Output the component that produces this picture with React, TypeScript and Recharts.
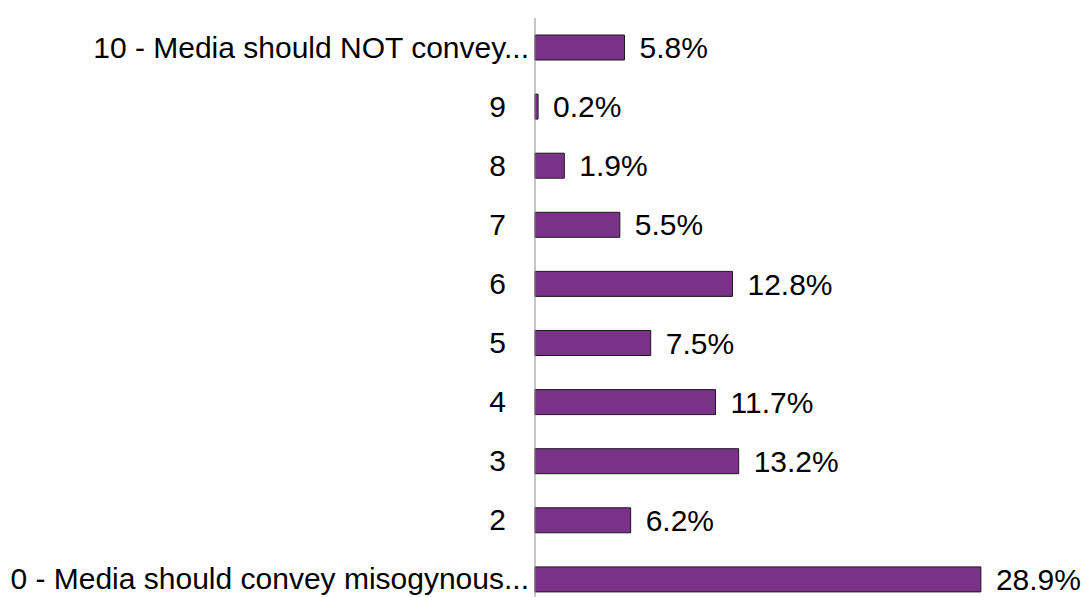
import React from 'react';
import { BarChart, Bar, XAxis, YAxis, LabelList } from 'recharts';

const categories = [
    '10 - Media should NOT convey...',
    '9',
    '8',
    '7',
    '6',
    '5',
    '4',
    '3',
    '2',
    '0 - Media should convey misogynous...',
];

const shares = [5.8, 0.2, 1.9, 5.5, 12.8, 7.5, 11.7, 13.2, 6.2, 28.9];

const data = categories.map((name, i) => ({ name, value: shares[i] }));

const FONT = '"Liberation Sans", Arial, sans-serif';

const CategoryTick = (props: any) => {
    const { y, payload } = props;
    // long labels sit closer to the axis, like the original
    const long = String(payload.value).length > 3;
    return (
        <text
            x={long ? 529 : 506}
            y={y}
            dy={10}
            textAnchor="end"
            fontSize={30}
            fontFamily={FONT}
            fill="#000"
        >
            {payload.value}
        </text>
    );
};

const App: React.FC = () => {
    return (
        <div style={{ position: 'fixed', top: 0, left: 0, width: 1086, height: 597, overflow: 'hidden', background: '#fff' }}>
            <BarChart
                width={1086}
                height={629}
                data={data}
                layout="vertical"
                margin={{ top: 18, right: 11, bottom: 20, left: 0 }}
            >
                <XAxis type="number" domain={[0, 35]} hide />
                <YAxis
                    type="category"
                    dataKey="name"
                    width={535}
                    axisLine={{ stroke: '#8c8c8c' }}
                    tickLine={false}
                    tick={<CategoryTick />}
                    interval={0}
                />
                <Bar dataKey="value" fill="#7a3288" stroke="#1a1a1a" strokeWidth={1} barSize={25} isAnimationActive={false}>
                    <LabelList
                        dataKey="value"
                        position="right"
                        offset={15}
                        formatter={(v: any) => `${Number(v).toFixed(1)}%`}
                        fill="#000"
                        fontSize={30}
                        fontFamily={FONT}
                    />
                </Bar>
            </BarChart>
        </div>
    );
};

export default App;
